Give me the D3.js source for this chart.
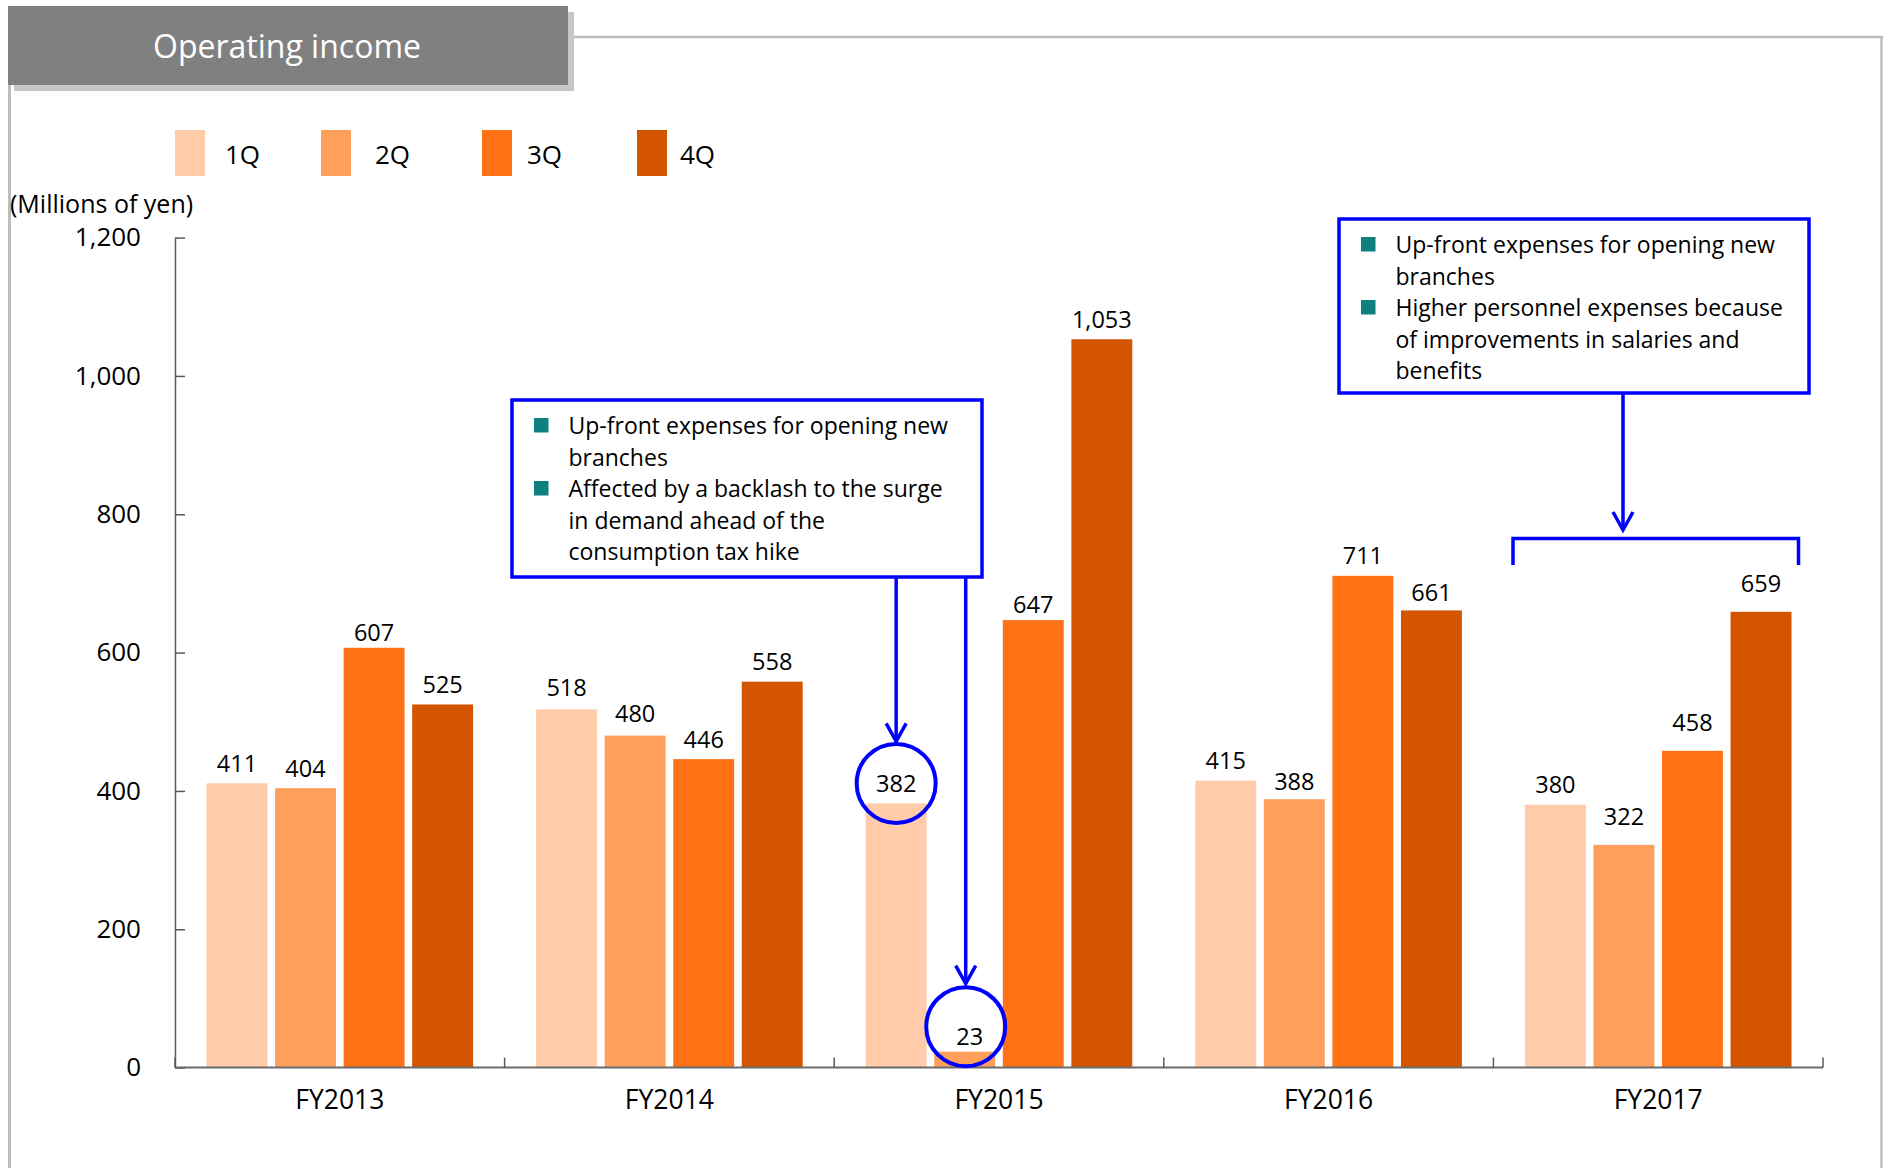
<!DOCTYPE html>
<html>
<head>
<meta charset="utf-8">
<script src="https://cdn.jsdelivr.net/npm/d3@7"></script>
<style>
  html, body { margin: 0; padding: 0; background: #fff; }
  svg { display: block; }
  text { font-family: "Open Sans", sans-serif; }
</style>
</head>
<body>
<svg id="chart" width="1883" height="1168"></svg>
<script>
// ---------- data ----------
const years = ["FY2013", "FY2014", "FY2015", "FY2016", "FY2017"];
const quarters = ["1Q", "2Q", "3Q", "4Q"];
const q1 = [411, 518, 382, 415, 380];
const q2 = [404, 480, 23, 388, 322];
const q3 = [607, 446, 647, 711, 458];
const q4 = [525, 558, 1053, 661, 659];
const yTicks = [0, 200, 400, 600, 800, 1000, 1200];
const title = "Operating income";
const unitLabel = "(Millions of yen)";
const note1 = [
  {bullet: true, text: "Up-front expenses for opening new"},
  {bullet: false, text: "branches"},
  {bullet: true, text: "Affected by a backlash to the surge"},
  {bullet: false, text: "in demand ahead of the"},
  {bullet: false, text: "consumption tax hike"}
];
const note2 = [
  {bullet: true, text: "Up-front expenses for opening new"},
  {bullet: false, text: "branches"},
  {bullet: true, text: "Higher personnel expenses because"},
  {bullet: false, text: "of improvements in salaries and"},
  {bullet: false, text: "benefits"}
];

// ---------- styles ----------
const colors = ["#FFCBA9", "#FF9F5C", "#FF7316", "#D45500"];
const blue = "#0000FF";
const teal = "#0F8080";
const frameGray = "#BDBDBD";

const series = [q1, q2, q3, q4];
const table = years.map((y, i) => ({year: y, values: quarters.map((q, j) => ({q, j, year: y, v: series[j][i]}))}));

const svg = d3.select("#chart");

// ---------- frame & title ----------
svg.append("line").attr("x1", 574).attr("x2", 1883).attr("y1", 37).attr("y2", 37)
  .attr("stroke", frameGray).attr("stroke-width", 2.5);
svg.append("line").attr("x1", 1881.5).attr("x2", 1881.5).attr("y1", 36).attr("y2", 1168)
  .attr("stroke", frameGray).attr("stroke-width", 2.5);
svg.append("line").attr("x1", 9.5).attr("x2", 9.5).attr("y1", 80).attr("y2", 1168)
  .attr("stroke", frameGray).attr("stroke-width", 3);
svg.append("rect").attr("x", 14).attr("y", 12).attr("width", 560).attr("height", 79).attr("fill", "#C6C6C6");
svg.append("rect").attr("x", 8).attr("y", 6).attr("width", 560).attr("height", 79).attr("fill", "#808080");
svg.append("text").attr("x", 287).attr("y", 58).attr("text-anchor", "middle")
  .attr("fill", "#fff").attr("font-size", 32).text(title);

// ---------- legend ----------
const legendX = [175, 321, 482, 637];
const legendLabelX = [225, 375, 527, 680];
const lg = svg.append("g");
quarters.forEach((q, i) => {
  lg.append("rect").attr("x", legendX[i]).attr("y", 130).attr("width", 30).attr("height", 46).attr("fill", colors[i]);
  lg.append("text").attr("x", legendLabelX[i]).attr("y", 164).attr("font-size", 26).attr("fill", "#000").text(q);
});

svg.append("text").attr("x", 10).attr("y", 213).attr("font-size", 25).attr("fill", "#000").text(unitLabel);

// ---------- scales ----------
const x0 = d3.scaleBand().domain(years).range([175, 1823]).padding(0);
const x1 = d3.scaleBand().domain(quarters).range([31.5, x0.bandwidth() - 31.5]).paddingInner(0.111).paddingOuter(0);
const y = d3.scaleLinear().domain([0, 1200]).range([1067.6, 237.6]);

// ---------- axes ----------
const yAxis = d3.axisLeft(y).tickValues(yTicks).tickSizeInner(-10).tickSizeOuter(0).tickPadding(34)
  .tickFormat(d3.format(","));
const yg = svg.append("g").attr("transform", "translate(175,0)").call(yAxis);
yg.selectAll("path, line").attr("stroke", "#595959").attr("stroke-width", 1.5);
yg.selectAll("text").attr("font-family", "Open Sans").attr("font-size", 26).attr("fill", "#000");

// ---------- bars ----------
// label gap above bar (layout only; Excel placed a few labels slightly differently)
const labelGap = {"FY2013-3Q": 7, "FY2014-2Q": 14, "FY2014-1Q": 13, "FY2015-2Q": 6.7, "FY2015-3Q": 7.5,
  "FY2016-4Q": 9, "FY2016-2Q": 9.5, "FY2017-2Q": 20, "FY2017-3Q": 20, "FY2017-4Q": 20};
const gap = d => labelGap[d.year + "-" + d.q] ?? 11.5;

const gYears = svg.append("g").selectAll("g").data(table).join("g")
  .attr("transform", d => `translate(${x0(d.year)},0)`);
gYears.selectAll("rect").data(d => d.values).join("rect")
  .attr("x", d => x1(d.q)).attr("width", x1.bandwidth())
  .attr("y", d => y(d.v)).attr("height", d => y(0) - y(d.v))
  .attr("fill", d => colors[d.j]);
gYears.selectAll("text.val").data(d => d.values).join("text").attr("class", "val")
  .attr("x", d => x1(d.q) + x1.bandwidth() / 2 + (d.year === "FY2015" && d.q === "2Q" ? 5 : 0))
  .attr("y", d => y(d.v) - gap(d))
  .attr("text-anchor", "middle").attr("font-size", 23.5).attr("fill", "#000")
  .text(d => d3.format(",")(d.v));

// x axis
const xg = svg.append("g");
xg.append("line").attr("x1", 175).attr("x2", 1823).attr("y1", y(0)).attr("y2", y(0))
  .attr("stroke", "#6b6b6b").attr("stroke-width", 2);
const bounds = years.map(yr => x0(yr)).concat([x0.range()[1]]);
xg.selectAll("line.tick").data(bounds).join("line").attr("class", "tick")
  .attr("x1", d => d).attr("x2", d => d).attr("y1", y(0)).attr("y2", y(0) - 10)
  .attr("stroke", "#595959").attr("stroke-width", 1.5);
xg.selectAll("text").data(years).join("text")
  .attr("x", d => x0(d) + x0.bandwidth() / 2).attr("y", 1109)
  .attr("text-anchor", "middle").attr("font-size", 26.5).attr("fill", "#000").text(d => d);

// ---------- annotations ----------
function noteBox(x, yTop, w, h, lines) {
  const g = svg.append("g");
  g.append("rect").attr("x", x).attr("y", yTop).attr("width", w).attr("height", h)
    .attr("fill", "#fff").attr("stroke", blue).attr("stroke-width", 3.5);
  lines.forEach((l, i) => {
    const base = yTop + 34 + i * 31.5;
    if (l.bullet) g.append("rect").attr("x", x + 22).attr("y", base - 16).attr("width", 14.5).attr("height", 14.5).attr("fill", teal);
    g.append("text").attr("x", x + 56.5).attr("y", base).attr("font-size", 23).attr("fill", "#000").text(l.text);
  });
}
function arrowDown(xp, yFrom, yTo) {
  svg.append("line").attr("x1", xp).attr("x2", xp).attr("y1", yFrom).attr("y2", yTo)
    .attr("stroke", blue).attr("stroke-width", 3.5);
  svg.append("path").attr("d", `M${xp - 10},${yTo - 18}L${xp},${yTo}L${xp + 10},${yTo - 18}`)
    .attr("fill", "none").attr("stroke", blue).attr("stroke-width", 3.5);
}

noteBox(512, 400, 470, 177, note1);
noteBox(1339, 219, 470, 174, note2);

// FY2015 callouts
const cx1 = x0("FY2015") + x1("1Q") + x1.bandwidth() / 2;
const cx2 = x0("FY2015") + x1("2Q") + x1.bandwidth() / 2 + 1;
const cy1 = y(q1[2]) - 20;
const cy2 = y(q2[2]) - 25;
arrowDown(cx1, 577, cy1 - 42);
arrowDown(cx2, 577, cy2 - 43);
svg.append("circle").attr("cx", cx1).attr("cy", cy1).attr("r", 39.5).attr("fill", "none").attr("stroke", blue).attr("stroke-width", 4);
svg.append("circle").attr("cx", cx2).attr("cy", cy2).attr("r", 39.5).attr("fill", "none").attr("stroke", blue).attr("stroke-width", 4);

// FY2017 bracket
arrowDown(1623, 393, 530);
svg.append("path").attr("d", "M1513,565V538.5H1798.5V565")
  .attr("fill", "none").attr("stroke", blue).attr("stroke-width", 3.5);
</script>
</body>
</html>
